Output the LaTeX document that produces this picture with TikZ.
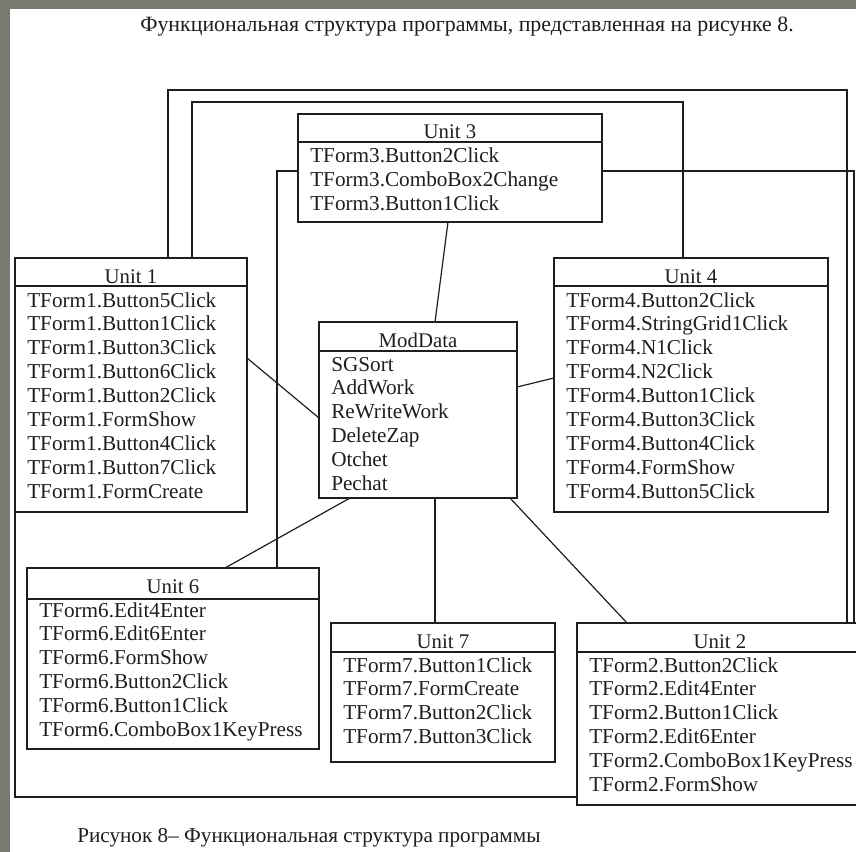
\documentclass[tikz,border=0pt]{standalone}
\usepackage{fontspec}
\setmainfont{Liberation Serif}
\usetikzlibrary{calc}
\newdimen\pxu \pxu=0.75pt
\definecolor{pagegray}{RGB}{118,122,112}
\definecolor{ink}{RGB}{30,30,30}
\newcommand\mkunit[8]{%
  \node[ubox={#4}{#5}] (#1) at (#2,#3) {};
  \draw[ink, line width=1.1pt] ($(#1.north west)+(0,#8)$) -- ($(#1.north east)+(0,#8)$);
  \node[utitle] (#1-t) at ($(#1.north)+(0,25)$) {#6};
  \foreach \t [count=\i] in {#7} \node[item] (#1-\i) at ($(#1.north west)+(12,{49+23.9*(\i-1)})$) {\t};
}
\begin{document}
\begin{tikzpicture}[x=0.75pt,y=-0.75pt,
  ubox/.style n args={2}{draw=ink, line width=1.1pt, minimum width=#1\pxu, minimum height=#2\pxu, anchor=north west, inner sep=0pt, outer sep=0pt},
  utitle/.style={anchor=base, inner sep=0pt, font=\fontsize{15.6}{18}\selectfont, text=ink},
  item/.style={anchor=base west, inner sep=0pt, font=\fontsize{15.9}{18}\selectfont, text=ink},
  conn/.style={draw=ink, line width=0.9pt},
  capt/.style={inner sep=0pt, font=\fontsize{15.9}{18}\selectfont, text=ink},
]
\useasboundingbox (0,0) rectangle (856,852);
\fill[pagegray] (0,0) rectangle (856,852);
\fill[white] (10,9) rectangle (856,852);

\node[capt, anchor=base, font=\fontsize{16.4}{18}\selectfont] (title) at (467,32) {Функциональная структура программы, представленная на рисунке 8.};
\node[capt, anchor=base west] (caption) at (77,842) {Рисунок 8– Функциональная структура программы};

\mkunit{u1}{15}{258}{232}{254}{Unit 1}{TForm1.Button5Click,TForm1.Button1Click,TForm1.Button3Click,TForm1.Button6Click,TForm1.Button2Click,TForm1.FormShow,TForm1.Button4Click,TForm1.Button7Click,TForm1.FormCreate}{28}
\mkunit{u3}{298}{114}{304}{108}{Unit 3}{TForm3.Button2Click,TForm3.ComboBox2Change,TForm3.Button1Click}{28}
\mkunit{u4}{554}{258}{274}{254}{Unit 4}{TForm4.Button2Click,TForm4.StringGrid1Click,TForm4.N1Click,TForm4.N2Click,TForm4.Button1Click,TForm4.Button3Click,TForm4.Button4Click,TForm4.FormShow,TForm4.Button5Click}{28}
\mkunit{md}{319}{322}{198}{176}{ModData}{SGSort,AddWork,ReWriteWork,DeleteZap,Otchet,Pechat}{29}
\mkunit{u6}{27}{568}{292}{181}{Unit 6}{TForm6.Edit4Enter,TForm6.Edit6Enter,TForm6.FormShow,TForm6.Button2Click,TForm6.Button1Click,TForm6.ComboBox1KeyPress}{31}
\mkunit{u7}{331}{623}{224}{139}{Unit 7}{TForm7.Button1Click,TForm7.FormCreate,TForm7.Button2Click,TForm7.Button3Click}{29}
\mkunit{u2}{577}{623}{286}{182}{Unit 2}{TForm2.Button2Click,TForm2.Edit4Enter,TForm2.Button1Click,TForm2.Edit6Enter,TForm2.ComboBox1KeyPress,TForm2.FormShow}{29}

% orthogonal connectors
\coordinate (k1) at (168,90);
\coordinate (k1r) at (847,90);
\draw[conn] (u1.north -| k1) -- (k1) -- (k1r) -- (u2.north -| k1r);
\coordinate (k2) at (192,102);
\coordinate (k2r) at (683,102);
\draw[conn] (u1.north -| k2) -- (k2) -- (k2r) -- (u4.north -| k2r);
\coordinate (k3) at (854,171);
\draw[conn] (u3.north east |- k3) -- (k3) -- (u2.north -| k3);
\coordinate (k4) at (277,171);
\draw[conn] (u3.north west |- k4) -- (k4) -- (u6.north -| k4);
\coordinate (k5) at (15,797);
\draw[conn] (u1.south west) -- (k5) -- (u2.west |- k5);

% straight connectors to ModData
\draw[conn] ($(u3.south west)+(150,0)$) -- ($(md.north west)+(116,0)$);
\draw[conn] ($(u1.north east)+(0,100)$) -- ($(md.north west)+(0,96)$);
\draw[conn] ($(md.north east)+(0,65)$) -- ($(u4.north west)+(0,120)$);
\draw[conn] ($(md.south west)+(31,0)$) -- ($(u6.north west)+(198,0)$);
\draw[conn] ($(md.south west)+(116,0)$) -- ($(u7.north west)+(104,0)$);
\draw[conn] ($(md.south east)+(-7,0)$) -- ($(u2.north west)+(50,0)$);
\end{tikzpicture}
\end{document}
